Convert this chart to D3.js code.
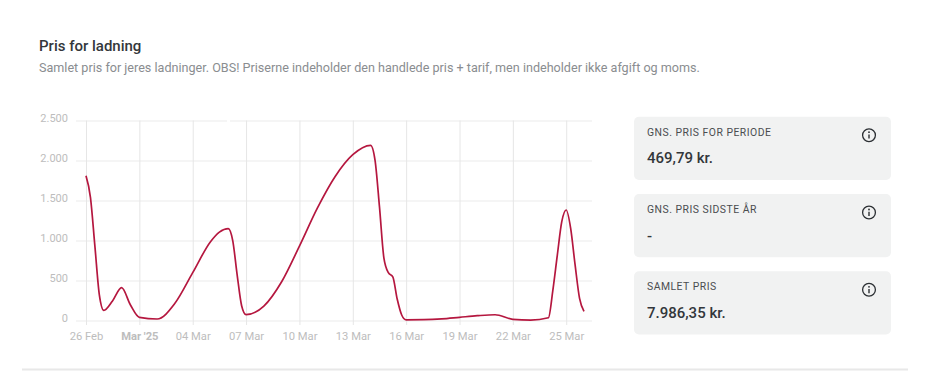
<html>

<head>
	<meta charset="utf-8">
	<title>Pris for ladning</title>
	<style>
		html, body { margin: 0; padding: 0; background: #fff; overflow: hidden; }
		text { font-family: Roboto, sans-serif; }
	</style>
</head>

<body>
	<script src="https://cdn.jsdelivr.net/npm/d3@7/dist/d3.min.js" charset="utf-8"></script>
	<script>
		// aflaest fra billedet, med ekstra punkter hvor kurven aendrer sig hurtigt
		var times = ["02-26T00", "02-26T06", "02-26T12", "02-26T18", "02-27T00", "02-27T12", "02-28T00", "02-28T12", "03-01T00", "03-02T00",
			"03-03T00", "03-04T00", "03-05T00", "03-05T12", "03-06T00", "03-06T06", "03-06T12", "03-06T18", "03-07T00", "03-08T00",
			"03-09T00", "03-10T00", "03-11T00", "03-12T00", "03-13T00", "03-14T00", "03-14T06", "03-14T12", "03-14T18", "03-15T00",
			"03-15T06", "03-15T12", "03-15T18", "03-16T00", "03-17T00", "03-18T00", "03-19T00", "03-20T00", "03-21T00", "03-22T00",
			"03-23T00", "03-24T00", "03-24T06", "03-24T12", "03-24T18", "03-25T00", "03-25T06", "03-25T12", "03-25T18", "03-26T00"];
		var prices = [1810, 1540, 930, 320, 127, 248, 410, 194, 40, 19,
			215, 598, 985, 1105, 1148, 998, 568, 185, 73, 181,
			485, 930, 1402, 1798, 2073, 2190, 2006, 1423, 780, 598,
			545, 265, 69, 8, 10, 20, 40, 60, 72, 15,
			5, 35, 381, 818, 1235, 1381, 1152, 694, 277, 115];
		var xTicks = ["02-26T00", "03-01T00", "03-04T00", "03-07T00", "03-10T00", "03-13T00", "03-16T00", "03-19T00", "03-22T00", "03-25T00"];
		var xTickLabels = ["26 Feb", "Mar '25", "04 Mar", "07 Mar", "10 Mar", "13 Mar", "16 Mar", "19 Mar", "22 Mar", "25 Mar"];
		var yTicks = [0, 500, 1000, 1500, 2000, 2500];
		var cardLabels = ["GNS. PRIS FOR PERIODE", "GNS. PRIS SIDSTE ÅR", "SAMLET PRIS"];
		var cardValues = ["469,79 kr.", "-", "7.986,35 kr."];

		var parseTime = function (s) { return d3.utcParse("%Y-%m-%dT%H")("2025-" + s); };

		var svg = d3.select("body")
			.append("svg")
			.attr("width", 930)
			.attr("height", 380)
			.style("display", "block");

		// titel
		svg.append("text")
			.attr("x", 39)
			.attr("y", 50.5)
			.attr("font-size", 15)
			.attr("font-weight", 500)
			.attr("fill", "#33373b")
			.text("Pris for ladning");
		svg.append("text")
			.attr("x", 39)
			.attr("y", 72)
			.attr("font-size", 12.6)
			.attr("fill", "#8a8d90")
			.text("Samlet pris for jeres ladninger. OBS! Priserne indeholder den handlede pris + tarif, men indeholder ikke afgift og moms.");

		var x = d3.scaleUtc().domain([parseTime("02-26T00"), parseTime("03-26T00")]).range([86, 584]);
		var y = d3.scaleLinear().domain([0, 2500]).range([320.5, 120.5]);
		var danish = d3.formatLocale({ decimal: ",", thousands: ".", grouping: [3], currency: ["", " kr."] });

		// y-akse med gitterlinjer
		var yAxis = svg.append("g")
			.attr("transform", "translate(76,0)")
			.call(d3.axisLeft(y)
				.tickValues(yTicks)
				.tickSize(-516)
				.tickPadding(8)
				.tickFormat(danish.format(",d")));
		yAxis.select(".domain").remove();
		yAxis.selectAll("line").attr("stroke", "#ebebeb");
		yAxis.selectAll("text")
			.attr("y", -3)
			.attr("font-size", 11)
			.attr("fill", "#bdbdbd")
			.style("font-family", "Roboto, sans-serif");

		// x-akse med gitterlinjer
		var xAxis = svg.append("g")
			.attr("transform", "translate(0,325)")
			.call(d3.axisBottom(x)
				.tickValues(xTicks.map(parseTime))
				.tickSize(-204.5)
				.tickPadding(6)
				.tickFormat(function (d, i) { return xTickLabels[i]; }));
		xAxis.select(".domain").remove();
		xAxis.selectAll("line").attr("stroke", "#e6e6e6");
		xAxis.selectAll("text")
			.attr("font-size", 11.2)
			.attr("fill", "#bdbdbd")
			.attr("font-weight", function (d, i) { return i == 1 ? 700 : 400; })
			.attr("y", 7)
			.attr("dy", "0.71em")
			.style("font-family", "Roboto, sans-serif");

		// lille hul i den overste gitterlinje
		svg.append("rect")
			.attr("x", 227)
			.attr("y", 119)
			.attr("width", 3)
			.attr("height", 3)
			.attr("fill", "#fff");

		var line = d3.line()
			.x(function (d, i) { return x(parseTime(times[i])); })
			.y(function (d) { return y(d); })
			.curve(d3.curveMonotoneX);
		svg.append("path")
			.datum(prices)
			.attr("fill", "none")
			.attr("stroke", "#b5173f")
			.attr("stroke-width", 1.7)
			.attr("d", line);

		// kort til hojre
		var cardTops = d3.scaleLinear().domain([0, 2]).range([116.7, 271.3]);
		var cards = svg.selectAll(".card")
			.data(cardLabels)
			.enter()
			.append("g")
			.attr("class", "card")
			.attr("transform", function (d, i) { return "translate(634," + cardTops(i) + ")"; });
		cards.append("rect")
			.attr("width", 257)
			.attr("height", 63.2)
			.attr("rx", 5)
			.attr("fill", "#f1f2f2");
		cards.append("text")
			.attr("x", 13)
			.attr("y", 19)
			.attr("font-size", 10.4)
			.attr("letter-spacing", 0.5)
			.attr("fill", "#4a4d50")
			.text(function (d) { return d; });
		cards.append("text")
			.attr("x", 13)
			.attr("y", 46.5)
			.attr("font-size", 15)
			.attr("font-weight", 500)
			.attr("fill", "#33373b")
			.text(function (d, i) { return cardValues[i]; });
		// info ikon
		var icon = cards.append("g").attr("transform", "translate(235,18.5)");
		icon.append("circle")
			.attr("r", 6.4)
			.attr("fill", "none")
			.attr("stroke", "#2b2f33")
			.attr("stroke-width", 1.3);
		icon.append("line")
			.attr("y1", -0.8)
			.attr("y2", 3.4)
			.attr("stroke", "#2b2f33")
			.attr("stroke-width", 1.4);
		icon.append("circle")
			.attr("cy", -3)
			.attr("r", 0.9)
			.attr("fill", "#2b2f33");

		// bundkant af panelet
		svg.append("line")
			.attr("x1", 22)
			.attr("x2", 908)
			.attr("y1", 369.5)
			.attr("y2", 369.5)
			.attr("stroke", "#e8e8e8")
			.attr("stroke-width", 2);
	</script>
</body>

</html>
